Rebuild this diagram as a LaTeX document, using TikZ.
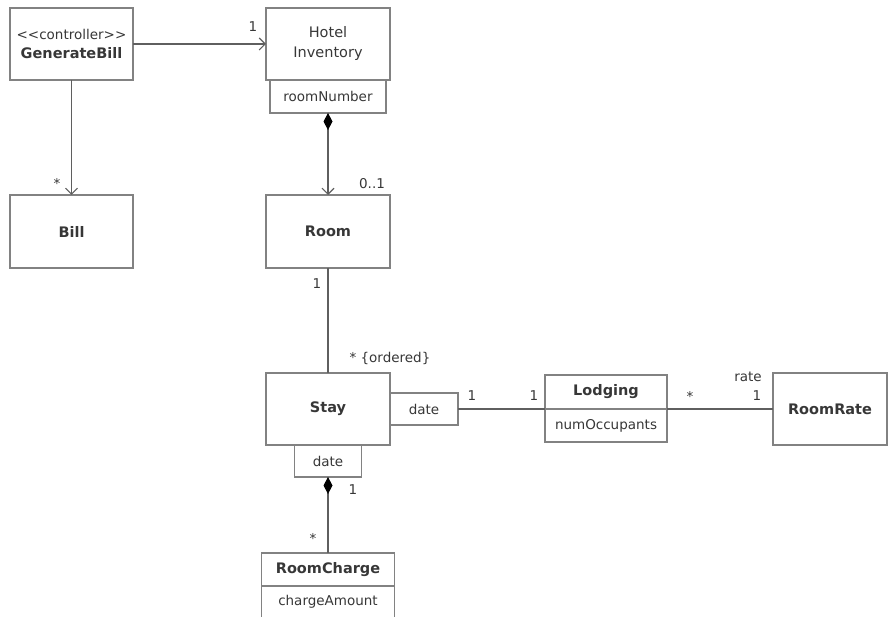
\documentclass[tikz,border=0pt]{standalone}
\usepackage{fontspec}
\setmainfont{DejaVu Sans}
\usetikzlibrary{arrows.meta}
\definecolor{BoxGray}{RGB}{130,130,130}
\definecolor{LineGray}{RGB}{95,95,95}
\definecolor{TextGray}{RGB}{55,55,55}

\begin{document}
\begin{tikzpicture}[x=1pt,y=-1pt,
  cls/.style={draw=BoxGray,line width=1.3pt,inner sep=0pt,outer sep=0pt,text=TextGray,
    align=center,font=\fontsize{14.5}{19}\selectfont\bfseries},
  attr/.style={cls,font=\fontsize{13.5}{15}\selectfont},
  mult/.style={text=TextGray,inner sep=0pt,font=\fontsize{13.5}{15}\selectfont},
  assoc/.style={draw=LineGray,line width=1.1pt},
  nav/.style={assoc,-{Straight Barb[length=6pt,width=12pt]}},
  comp/.style={assoc,{Diamond[length=17pt,width=9pt,color=black]}-}]
\useasboundingbox (0,0) rectangle (888,617);
% classes
\node[cls,minimum width=123pt,minimum height=72pt] (gen) at (71.5,44)
  {{\mdseries\fontsize{13.5}{15}\selectfont {<}{<}controller{>}{>}}\\GenerateBill};
\node[cls,minimum width=124pt,minimum height=72pt,font=\fontsize{14.5}{20}\selectfont] (inv) at (328,44) {Hotel\\Inventory};
\node[attr,minimum width=116pt,minimum height=33pt] (invq) at (328,96.5) {roomNumber};
\node[cls,minimum width=123pt,minimum height=73pt] (bill) at (71.5,231.5) {Bill};
\node[cls,minimum width=124pt,minimum height=73pt] (room) at (328,231.5) {Room};
\node[cls,minimum width=124pt,minimum height=72pt] (stay) at (328,409) {Stay};
\node[attr,minimum width=68pt,minimum height=32pt] (stayq) at (424,409) {date};
\node[attr,minimum width=67pt,minimum height=32pt] (stayd) at (328,461) {date};
\node[cls,minimum width=122pt,minimum height=34pt] (lodg) at (606,392) {Lodging};
\node[attr,minimum width=122pt,minimum height=33pt] (lodga) at (606,425.5) {numOccupants};
\node[cls,minimum width=114pt,minimum height=72pt] (rate) at (830,409) {RoomRate};
\node[cls,minimum width=133pt,minimum height=33pt] (rch) at (328,569.5) {RoomCharge};
\node[attr,minimum width=133pt,minimum height=32pt] (rcha) at (328,602) {chargeAmount};

% associations
\draw[nav] (gen.east) -- (inv.west);
\draw[nav] (gen.south) -- (bill.north);
\draw[assoc,{Diamond[length=17pt,width=9pt,color=black]}-{Straight Barb[length=6pt,width=12pt]}] (invq.south) -- (room.north);
\draw[assoc] (room.south) -- (stay.north);
\draw[assoc] (stayq.east) -- (lodg.south west);
\draw[assoc] (lodg.south east) -- (rate.west);
\draw[comp] (stayd.south) -- (rch.north);

% multiplicities
\node[mult] (m1) at (253,27) {1};
\node[mult] (m2) at (57,183) {*};
\node[mult] (m3) at (372,184) {0..1};
\node[mult] (m4) at (317,284) {1};
\node[mult] (m5) at (390,358) {* \{ordered\}};
\node[mult] (m6) at (472,396) {1};
\node[mult] (m7) at (534,396) {1};
\node[mult] (m8) at (690,396) {*};
\node[mult] (m9) at (748,377) {rate};
\node[mult] (m10) at (757,396) {1};
\node[mult] (m11) at (353,490) {1};
\node[mult] (m12) at (313,538) {*};
\end{tikzpicture}
\end{document}
